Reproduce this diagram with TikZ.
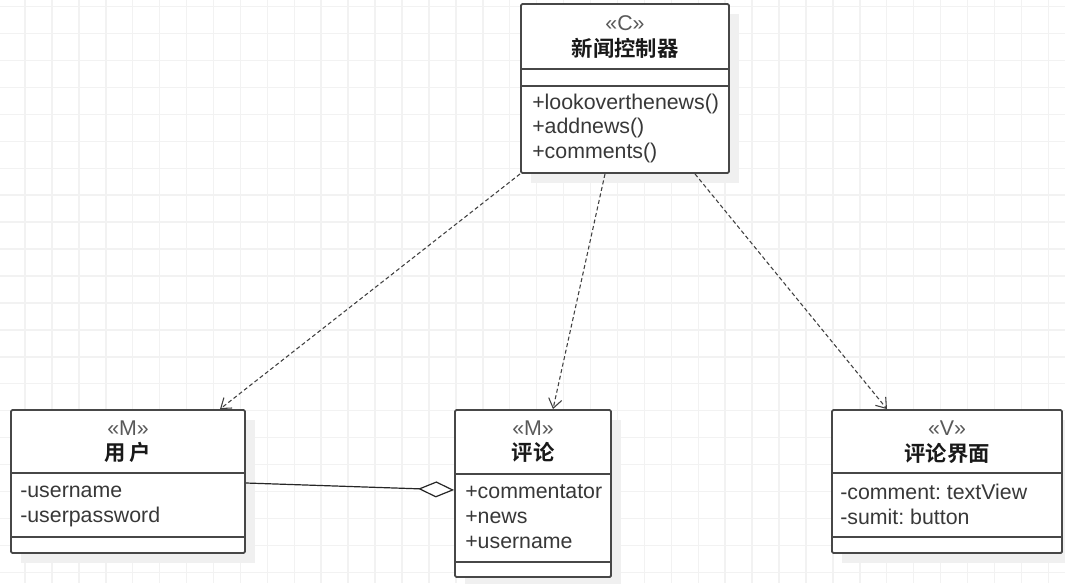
\documentclass[tikz,border=0pt]{standalone}
\usepackage{fontspec}
\setmainfont{Liberation Sans}
\newfontfamily\cjkfont{Noto Sans CJK SC Bold}
\usetikzlibrary{calc,arrows.meta}
\frenchspacing

\tikzset{
  gridline/.style={draw=black!5,line width=1.1pt},
  umlbox/.style={draw=black!72,line width=1.4pt,fill=white,rounded corners=1pt,inner sep=0pt},
  umlshade/.style={fill=black!6,draw=none},
  umlsep/.style={draw=black!72,line width=1.4pt},
  stereo/.style={font=\fontsize{16}{19}\selectfont,text=black!65,inner sep=0pt},
  cname/.style={font=\fontsize{16}{19}\selectfont\cjkfont,text=black!90,inner sep=0pt},
  member/.style={anchor=west,font=\fontsize{16}{19}\selectfont,text=black!78,inner sep=0pt},
  depend/.style={draw=black!75,line width=0.8pt,dash pattern=on 3pt off 2pt,
    -{Straight Barb[length=7pt,width=10pt,line width=0.8pt]}},
  aggr/.style={draw=black!85,line width=0.9pt,
    {Diamond[fill=white,length=27pt,width=12pt,line width=0.9pt]}-}
}

\begin{document}
\begin{tikzpicture}[x=0.75pt,y=-0.75pt]

% === Background and grid ===
\useasboundingbox (0,0) rectangle (1065,583);
\fill[white] (0,0) rectangle (1065,583);
\foreach \i in {0,...,38}
  \draw[gridline] ({25+26.93*\i},0) -- ({25+26.93*\i},583);
\foreach \j in {0,...,21}
  \draw[gridline] (0,{6.7+26.93*\j}) -- (1065,{6.7+26.93*\j});

% === Shadows ===
\fill[umlshade] (531,14) rectangle (739,183);
\fill[umlshade] (21,420) rectangle (255,563);
\fill[umlshade] (465,420) rectangle (621,587);
\fill[umlshade] (842,420) rectangle (1072,563);

% === Controller: 新闻控制器 ===
\node[umlbox,minimum width=156pt,minimum height=126.75pt] (ctrl) at (625,88.5) {};
\draw[umlsep] (521,69) -- (729,69);
\draw[umlsep] (521,86) -- (729,86);
\node[stereo] (ctrl-st) at (625,23) {«C»};
\node[cname] (ctrl-name) at (625,48) {新闻控制器};
\node[member] (ctrl-m1) at (532,104) {+lookoverthenews()};
\node[member] (ctrl-m2) at (532,128) {+addnews()};
\node[member] (ctrl-m3) at (532,153) {+comments()};

% === Model: 用户 ===
\node[umlbox,minimum width=175.5pt,minimum height=107.25pt] (user) at (128,481.5) {};
\draw[umlsep] (11,473) -- (245,473);
\draw[umlsep] (11,537) -- (245,537);
\node[stereo] (user-st) at (128,428) {«M»};
\node[cname] (user-name) at (128,452) {用\,户};
\node[member] (user-a1) at (20,492) {-username};
\node[member] (user-a2) at (20,517) {-userpassword};

% === Model: 评论 ===
\node[umlbox,minimum width=117pt,minimum height=125.25pt] (cmt) at (533,493.5) {};
\draw[umlsep] (455,474) -- (611,474);
\draw[umlsep] (455,562) -- (611,562);
\node[stereo] (cmt-st) at (533,428) {«M»};
\node[cname] (cmt-name) at (533,452) {评论};
\node[member] (cmt-a1) at (465,492) {+commentator};
\node[member] (cmt-a2) at (465,517) {+news};
\node[member] (cmt-a3) at (465,542) {+username};

% === View: 评论界面 ===
\node[umlbox,minimum width=172.5pt,minimum height=107.25pt] (view) at (947,481.5) {};
\draw[umlsep] (832,473) -- (1062,473);
\draw[umlsep] (832,537) -- (1062,537);
\node[stereo] (view-st) at (947,428) {«V»};
\node[cname] (view-name) at (947,453) {评论界面};
\node[member] (view-a1) at (840,492) {-comment: textView};
\node[member] (view-a2) at (840,517) {-sumit: button};

% === Dependencies ===
\draw[depend] (ctrl.south west) -- ($(user.north)+(92,0)$);
\draw[depend] ($(ctrl.south)+(-20,0)$) -- ($(cmt.north)+(20,0)$);
\draw[depend] ($(ctrl.south)+(70,0)$) -- ($(view.north)+(-60,0)$);

% === Aggregation ===
\draw[aggr] ($(cmt.west)+(0,-3.5)$) -- ($(user.east)+(0,1.5)$);

\end{tikzpicture}
\end{document}
